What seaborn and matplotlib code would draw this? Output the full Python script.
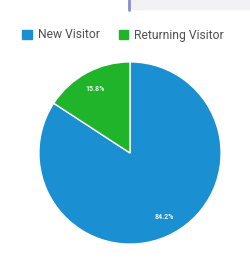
import matplotlib
matplotlib.use("Agg")
import numpy as np
import matplotlib.pyplot as plt
import seaborn as sns
from matplotlib.patches import Rectangle, Patch

sns.set_style("white")
plt.rcParams["font.family"] = ["Roboto", "DejaVu Sans"]

labels = ["New Visitor", "Returning Visitor"]
shares = [84.2, 15.8]
colors = ["#1a8fd2", "#1fb42a"]

fig = plt.figure(figsize=(2.51, 2.58), dpi=100)

# grey strip at top right (part of the page behind the chart)
fig.patches.append(Rectangle((130 / 251, 1 - 9 / 258), 121 / 251, 9 / 258,
                             transform=fig.transFigure, color="#f2f2f4", zorder=0))
fig.lines.append(plt.Line2D([129.5 / 251, 129.5 / 251], [1, 1 - 10 / 258],
                            transform=fig.transFigure, color="#8c8cc8", lw=2))

ax = fig.add_axes([38 / 251, 13 / 258, 184 / 251, 184 / 258])
wedges, texts = ax.pie(
    shares,
    colors=colors,
    startangle=90,
    counterclock=False,
    wedgeprops=dict(edgecolor="white", linewidth=1),
)
for w, s in zip(wedges, shares):
    ang = np.deg2rad((w.theta1 + w.theta2) / 2)
    ax.text(0.8 * np.cos(ang), 0.8 * np.sin(ang), f"{s}%", ha="center",
            va="center", color="#eaf6ea", fontsize=5, fontweight="bold")
ax.set_xlim(-1.01, 1.01)
ax.set_ylim(-1.01, 1.01)
ax.set_aspect("equal")

handles = [Patch(color=c) for c in colors]
fig.legend(handles, labels, loc="center", bbox_to_anchor=(0.49, 1 - 35 / 258),
           ncol=2, frameon=False, handlelength=0.8, handleheight=0.8,
           handletextpad=0.45, columnspacing=1.6, labelcolor="#505050",
           prop=dict(weight="normal", size=8.7))

fig.savefig("out.png", dpi=100)
